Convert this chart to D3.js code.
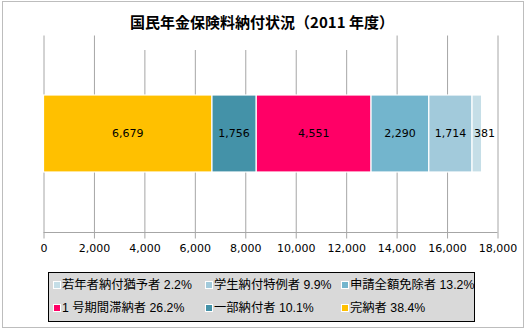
<!DOCTYPE html>
<html><head><meta charset="utf-8">
<script src="https://cdn.jsdelivr.net/npm/d3@7"></script>
<style>html,body{margin:0;padding:0;background:#fff;}svg{display:block;}</style>
</head><body>
<script>
// 2011年度 国民年金保険料納付状況（千人）
const categories = ["完納者", "一部納付者", "1 号期間滞納者", "申請全額免除者", "学生納付特例者", "若年者納付猶予者"];
const values = [6679, 1756, 4551, 2290, 1714, 381];
const percents = ["38.4%", "10.1%", "26.2%", "13.2%", "9.9%", "2.2%"];
const colors = ["#FFC000", "#4492A8", "#FF0066", "#73B5CD", "#A2CADB", "#C5DEE7"];
const tickValues = [0, 2000, 4000, 6000, 8000, 10000, 12000, 14000, 16000, 18000];
const legendOrder = [5, 4, 3, 2, 1, 0];

const W = 527, H = 330;
const svg = d3.select("body").append("svg").attr("width", W).attr("height", H);

// chart frame
svg.append("rect").attr("x", 2.5).attr("y", 1.5).attr("width", 521).attr("height", 326)
  .attr("fill", "#fff").attr("stroke", "#bdbdbd");

const x = d3.scaleLinear().domain([0, 18000]).range([43.5, 497.5]);
const plotTop = 35, plotBottom = 232;

// vertical gridlines + axis
const axis = d3.axisBottom(x).tickValues(tickValues).tickSize(6)
  .tickFormat(d3.format(","));
const gAxis = svg.append("g").attr("transform", `translate(0,${plotBottom + 0.5})`).call(axis);
gAxis.select(".domain").attr("stroke", "#a6a6a6").attr("d", `M${x(0)},0H${x(18000)}`);
gAxis.selectAll(".tick line").attr("stroke", "#a6a6a6").attr("y1", -(plotBottom - plotTop)).attr("y2", 6);
gAxis.selectAll(".tick text").attr("y", 12).attr("dy", "0.71em")
  .attr("font-family", "DejaVu Sans, Verdana, sans-serif").attr("font-size", 11).attr("fill", "#000");

// stacked bar
let acc = 0;
const segs = values.map((v, i) => { const s = { i, v, x0: acc, x1: acc + v }; acc += v; return s; });
const barY = 95, barH = 77;
svg.append("g").selectAll("rect").data(segs).join("rect")
  .attr("x", d => x(d.x0)).attr("y", barY)
  .attr("width", d => x(d.x1) - x(d.x0)).attr("height", barH)
  .attr("fill", d => colors[d.i]).attr("stroke", "#fff").attr("stroke-width", 1.2);

svg.append("g").selectAll("text").data(segs).join("text")
  .attr("x", d => d.i === 5 ? x(d.x0) + 2 : (x(d.x0) + x(d.x1)) / 2)
  .attr("y", barY + barH / 2).attr("dy", "0.36em")
  .attr("text-anchor", d => d.i === 5 ? "start" : "middle")
  .attr("font-family", "DejaVu Sans, Verdana, sans-serif").attr("font-size", 11).attr("fill", "#000")
  .text(d => d3.format(",")(d.v));

// title on a white backing that hides the gridline tops
const titleBg = svg.append("rect").attr("fill", "#fff");
const title = svg.append("text").attr("x", 262).attr("y", 28).attr("text-anchor", "middle")
  .attr("font-family", "Noto Sans CJK JP").attr("font-weight", "bold").attr("font-size", 15)
  .attr("fill", "#000").text("国民年金保険料納付状況（2011 年度）");
const tb = title.node().getBBox();
titleBg.attr("x", tb.x - 2).attr("y", tb.y).attr("width", tb.width + 4).attr("height", 50 - tb.y);

// legend
const lg = svg.append("g");
lg.append("rect").attr("x", 48.5).attr("y", 272.5).attr("width", 426).attr("height", 49)
  .attr("fill", "#d9d9d9").attr("stroke", "#000");
const colX = [53, 205, 341], rowY = [285, 308];
legendOrder.forEach((ci, k) => {
  const cx = colX[k % 3], cy = rowY[Math.floor(k / 3)];
  lg.append("rect").attr("x", cx + 0.5).attr("y", cy - 3.5).attr("width", 7).attr("height", 7)
    .attr("fill", colors[ci]).attr("stroke", "#fff").attr("stroke-width", 1);
  lg.append("text").attr("x", cx + 9).attr("y", cy).attr("dy", "0.36em")
    .attr("font-family", "'Liberation Sans', 'Noto Sans CJK JP', sans-serif").attr("font-size", 12.3).attr("fill", "#000")
    .text(categories[ci] + " " + percents[ci]);
});
</script>
</body></html>
